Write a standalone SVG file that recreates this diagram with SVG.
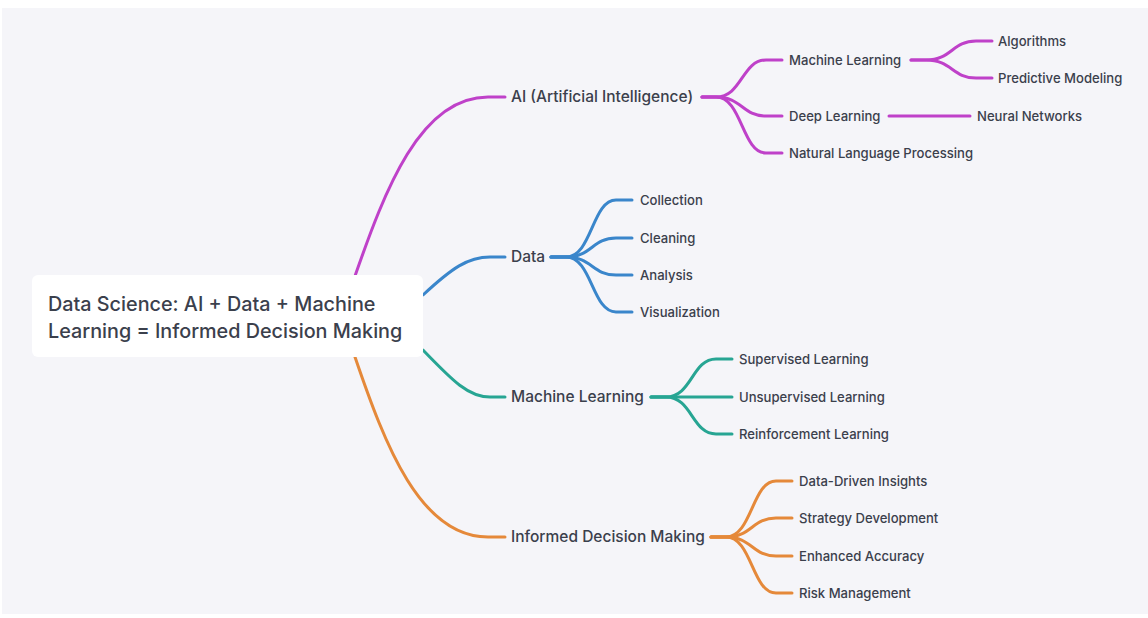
<svg xmlns="http://www.w3.org/2000/svg" width="1148" height="618" viewBox="0 0 1148 618">
<style>
.t{font-family:"Inter","Liberation Sans",sans-serif;fill:#3b404c;font-weight:500}
.root{font-size:19.8px}
.l1{font-size:15.5px}
.l2{font-size:13.1px}
.c path{fill:none;stroke-width:3;stroke-linecap:round}
.p{stroke:#bf41c9}.b{stroke:#3a86cb}.g{stroke:#27a593}.o{stroke:#e5893a}
</style>
<rect x="0" y="0" width="1148" height="618" fill="#ffffff"/>
<rect x="2" y="8" width="1146" height="606" fill="#f5f5f9"/>
<g class="c" id="connectors">
<path class="p" d="M355,276 C385,190 420,97 488,97 H505"/>
<path class="b" d="M423,295 C452,268 468,257 490,257 H505"/>
<path class="g" d="M423,350 C452,380 468,397 490,397 H505"/>
<path class="o" d="M355,357 C385,445 420,537 488,537 H505"/>
<path class="p" d="M702,97 H716 C742,97 742,60 766,60 H782"/>
<path class="p" d="M702,97 H716 C742,97 742,116 766,116 H782"/>
<path class="p" d="M702,97 H716 C742,97 742,153 766,153 H782"/>
<path class="p" d="M911,60 H926 C952,60 952,41 976,41 H992"/>
<path class="p" d="M911,60 H926 C952,60 952,78 976,78 H992"/>
<path class="p" d="M889,116 H970"/>
<path class="b" d="M551,257 H566 C592,257 592,200 616,200 H632"/>
<path class="b" d="M551,257 H566 C592,257 592,238 616,238 H632"/>
<path class="b" d="M551,257 H566 C592,257 592,275 616,275 H632"/>
<path class="b" d="M551,257 H566 C592,257 592,312 616,312 H632"/>
<path class="g" d="M651,397 H666 C692,397 692,359 716,359 H732"/>
<path class="g" d="M651,397 H732"/>
<path class="g" d="M651,397 H666 C692,397 692,434 716,434 H732"/>
<path class="o" d="M711,537 H726 C752,537 752,481 776,481 H792"/>
<path class="o" d="M711,537 H726 C752,537 752,518 776,518 H792"/>
<path class="o" d="M711,537 H726 C752,537 752,556 776,556 H792"/>
<path class="o" d="M711,537 H726 C752,537 752,593 776,593 H792"/>
</g>
<g id="root">
<rect x="32" y="275" width="391" height="82" rx="6" fill="#ffffff"/>
<text class="t root" x="48" y="311">Data Science: AI + Data + Machine</text>
<text class="t root" x="48" y="338">Learning = Informed Decision Making</text>
</g>
<g id="ai"><text class="t l1" x="511" y="102">AI (Artificial Intelligence)</text></g>
<g id="data"><text class="t l1" x="511" y="262">Data</text></g>
<g id="ml"><text class="t l1" x="511" y="402">Machine Learning</text></g>
<g id="idm"><text class="t l1" x="511" y="542">Informed Decision Making</text></g>
<g id="ai-ml"><text class="t l2" x="789" y="64.5">Machine Learning</text></g>
<g id="ai-dl"><text class="t l2" x="789" y="120.5">Deep Learning</text></g>
<g id="ai-nlp"><text class="t l2" x="789" y="157.5">Natural Language Processing</text></g>
<g id="algo"><text class="t l2" x="998" y="45.5">Algorithms</text></g>
<g id="pred"><text class="t l2" x="998" y="82.5">Predictive Modeling</text></g>
<g id="nn"><text class="t l2" x="977" y="120.5">Neural Networks</text></g>
<g id="coll"><text class="t l2" x="640" y="204.5">Collection</text></g>
<g id="clean"><text class="t l2" x="640" y="242.5">Cleaning</text></g>
<g id="anal"><text class="t l2" x="640" y="279.5">Analysis</text></g>
<g id="vis"><text class="t l2" x="640" y="316.5">Visualization</text></g>
<g id="sup"><text class="t l2" x="739" y="363.5">Supervised Learning</text></g>
<g id="unsup"><text class="t l2" x="739" y="401.5">Unsupervised Learning</text></g>
<g id="rein"><text class="t l2" x="739" y="438.5">Reinforcement Learning</text></g>
<g id="ddi"><text class="t l2" x="799" y="485.5">Data-Driven Insights</text></g>
<g id="sd"><text class="t l2" x="799" y="522.5">Strategy Development</text></g>
<g id="ea"><text class="t l2" x="799" y="560.5">Enhanced Accuracy</text></g>
<g id="rm"><text class="t l2" x="799" y="597.5">Risk Management</text></g>
</svg>
